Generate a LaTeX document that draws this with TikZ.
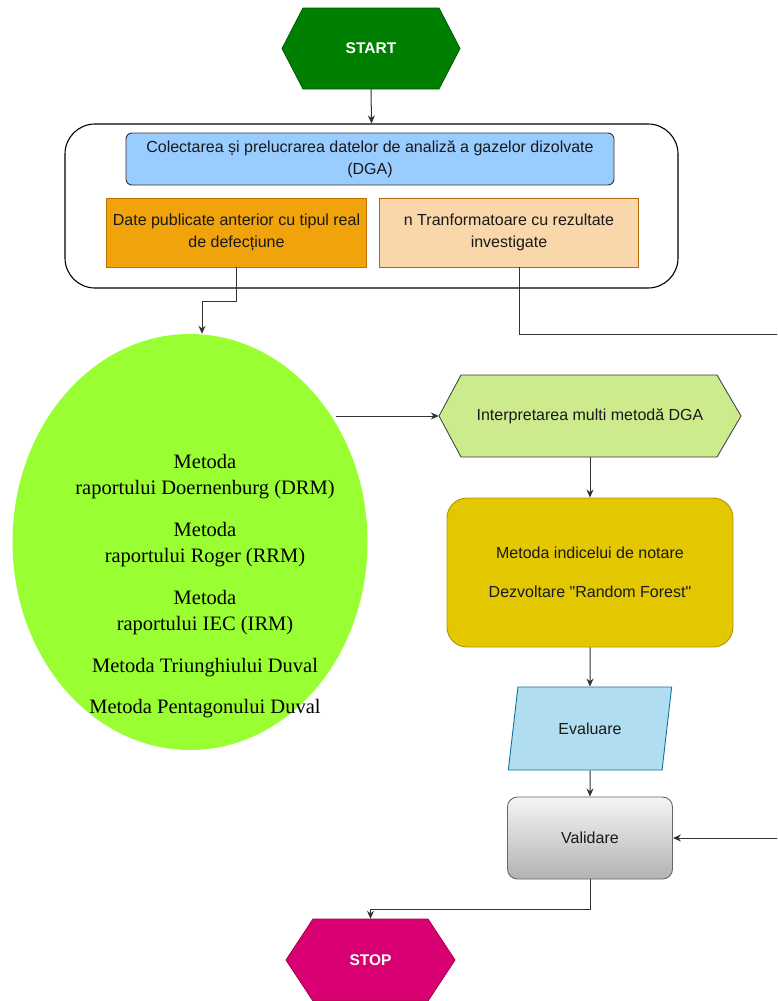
\documentclass[tikz,border=0pt]{standalone}
\usepackage{fontspec}
\setmainfont{Liberation Sans}[Ligatures=TeXOff]
\newfontfamily\methfont{Liberation Serif}
\usetikzlibrary{shapes.geometric,arrows.meta}
\definecolor{StartGreen}{rgb}{0.0, 0.5, 0.0}
\definecolor{StartEdge}{rgb}{0.0, 0.34, 0.0}
\definecolor{DgaBlue}{rgb}{0.6, 0.8, 1.0}
\definecolor{PubOrange}{rgb}{0.94, 0.64, 0.04}
\definecolor{PubEdge}{rgb}{0.74, 0.44, 0.0}
\definecolor{TrafoPeach}{rgb}{0.98, 0.84, 0.67}
\definecolor{TrafoEdge}{rgb}{0.71, 0.40, 0.02}
\definecolor{MethLime}{rgb}{0.6, 1.0, 0.2}
\definecolor{InterpGreen}{rgb}{0.80, 0.92, 0.55}
\definecolor{HexEdge}{rgb}{0.21, 0.22, 0.24}
\definecolor{ScoreYellow}{rgb}{0.89, 0.78, 0.0}
\definecolor{ScoreEdge}{rgb}{0.69, 0.58, 0.0}
\definecolor{EvalBlue}{rgb}{0.69, 0.87, 0.94}
\definecolor{EvalEdge}{rgb}{0.06, 0.45, 0.62}
\definecolor{ValidTop}{rgb}{0.96, 0.96, 0.96}
\definecolor{ValidBottom}{rgb}{0.70, 0.70, 0.70}
\definecolor{ValidEdge}{rgb}{0.4, 0.4, 0.4}
\definecolor{StopPink}{rgb}{0.85, 0.0, 0.45}
\definecolor{StopEdge}{rgb}{0.65, 0.0, 0.25}
\definecolor{LineGrey}{rgb}{0.2, 0.2, 0.2}

\begin{document}
\begin{tikzpicture}[x=1pt,y=1pt,yscale=-1,xscale=1,
  txt/.style={inner sep=0.75pt, align=center, text=black!90, font=\fontsize{16}{22}\selectfont},
  hexlabel/.style={inner sep=0.75pt, text=white, font=\fontsize{15.5}{18}\selectfont\bfseries},
  flow/.style={-{Stealth[length=8pt,width=7pt]}, line width=1pt, color=LineGrey},
  plain/.style={line width=1pt, color=LineGrey}
]
\useasboundingbox (0,0) rectangle (777,1001);
\clip (0,0) rectangle (777,1001);

%Shape: Hexagon [START]
\draw [draw=StartEdge, fill=StartGreen, line width=0.8pt] (282,48.5) -- (303,8) -- (439,8) -- (460,48.5) -- (439,89) -- (303,89) -- cycle ;
% Text Node
\node (start) [hexlabel, minimum width=178, minimum height=81] at (371,48.5) {START};

%Shape: Rounded Rect [input data group]
\node (datain) [draw=black, line width=1.1pt, rounded corners=30, minimum width=613, minimum height=164] at (371.5,206) {};
%Shape: Rounded Rect
\node (collect) [txt, draw=black!80, fill=DgaBlue, line width=0.9pt, rounded corners=6, minimum width=488, minimum height=52] at (370,159) {Colectarea și prelucrarea datelor de analiză a gazelor dizolvate\\(DGA)};
%Shape: Rectangle
\node (pub) [txt, draw=PubEdge, fill=PubOrange, line width=0.9pt, minimum width=260, minimum height=69] at (236.5,232.5) {Date publicate anterior cu tipul real\\de defecțiune};
%Shape: Rectangle
\node (trafo) [txt, draw=TrafoEdge, fill=TrafoPeach, line width=0.9pt, minimum width=259, minimum height=69] at (509,232.5) {n Tranformatoare cu rezultate\\investigate};

%Shape: Ellipse [methods]
\node (methods) [ellipse, draw=none, fill=MethLime, minimum width=355, minimum height=416] at (190,542) {};
% Text Node
\node (methlist) [inner sep=0.75pt, align=center, font=\methfont\fontsize{20.5}{26.5}\selectfont] at (205,586) {Metoda\\raportului Doernenburg (DRM)\\[15pt]Metoda\\raportului Roger (RRM)\\[15pt]Metoda\\raportului IEC (IRM)\\[15pt]Metoda Triunghiului Duval\\[15pt]Metoda Pentagonului Duval};

%Shape: Hexagon [interpretation]
\draw [draw=HexEdge, fill=InterpGreen, line width=0.8pt] (439,416) -- (461,375) -- (717,375) -- (741,416) -- (717,457) -- (461,457) -- cycle ;
% Text Node
\node (interp) [txt, minimum width=302, minimum height=82] at (590,416) {Interpretarea multi metodă DGA};

%Shape: Rounded Rect
\node (score) [txt, draw=ScoreEdge, fill=ScoreYellow, line width=0.9pt, rounded corners=20, minimum width=286, minimum height=149] at (590,572.5) {Metoda indicelui de notare\\[17pt]Dezvoltare "Random Forest"};
%Shape: Parallelogram
\node (eval) [txt, trapezium, trapezium left angle=72, trapezium right angle=108, trapezium stretches=true, draw=EvalEdge, fill=EvalBlue, line width=0.9pt, minimum width=164, minimum height=83] at (590,728.5) {Evaluare};
%Shape: Rounded Rect
\node (valid) [txt, draw=ValidEdge, top color=ValidTop, bottom color=ValidBottom, line width=0.9pt, rounded corners=10, minimum width=165, minimum height=82] at (590,838) {Validare};

%Shape: Hexagon [STOP]
\draw [draw=StopEdge, fill=StopPink, line width=0.8pt] (286,960) -- (313,919) -- (428,919) -- (455,960) -- (428,1001) -- (313,1001) -- cycle ;
% Text Node
\node (stop) [hexlabel, minimum width=169, minimum height=82] at (370.5,960) {STOP};

\coordinate (offright) at (800,334);

%Straight Lines
\draw [flow] (start.south) -- (datain.north) ;
\draw [flow] (pub.south) -- ++(0,34) -| ([xshift=12]methods.north) ;
\draw [flow] ([xshift=10]trafo.south) |- (offright) |- (valid.east) ;
\draw [flow] ([xshift=5]methods.42 |- interp.west) -- (interp.west) ;
\draw [flow] (interp.south) -- (score.north) ;
\draw [flow] (score.south) -- (eval.north) ;
\draw [flow] (eval.south) -- (valid.north) ;
\draw [flow] (valid.south) -- ++(0,30) -| (stop.north) ;

\end{tikzpicture}
\end{document}
